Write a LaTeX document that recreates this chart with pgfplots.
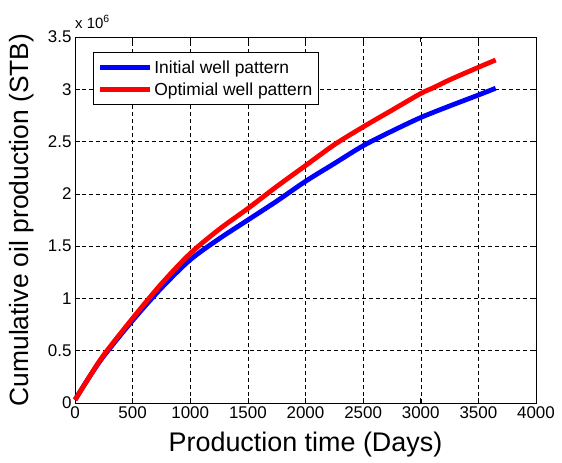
\documentclass[border=0pt]{standalone}
\usepackage{fontspec}
\setmainfont{Liberation Sans}
\usepackage{pgfplots}
\pgfplotsset{compat=1.18}
\begin{document}
\begin{tikzpicture}
\begin{axis}[
  at={(0,0)}, anchor=south west,
  scale only axis, width=461bp, height=366bp,
  xmin=0, xmax=4000, ymin=0, ymax=3.5,
  xtick={0,500,1000,1500,2000,2500,3000,3500,4000},
  ytick={0,0.5,1,1.5,2,2.5,3,3.5},
  grid=major,
  major grid style={black, line width=0.5bp, dash pattern=on 4bp off 3bp},
  tick align=inside, major tick length=5bp,
  tick style={black, line width=0.6bp},
  axis line style={line width=0.8bp},
  /pgf/number format/assume math mode=true,
  /pgf/number format/1000 sep={},
  ticklabel style={font=\fontsize{17}{19}\selectfont},
  xlabel={Production time (Days)},
  ylabel={Cumulative oil production (STB)},
  xlabel style={font=\fontsize{27}{30}\selectfont, at={(axis description cs:0.5,-49/366)}, anchor=base},
  ylabel style={font=\fontsize{26.5}{30}\selectfont, at={(axis description cs:-38/461,0.5)}, anchor=south},
  legend style={at={(axis description cs:18/461,1-15/366)}, anchor=north west,
    draw=black, line width=0.8bp, font=\fontsize{17.5}{19}\selectfont,
    inner xsep=4bp, inner ysep=6bp, row sep=4bp},
  legend cell align=left,
  legend image code/.code={\draw[#1, line width=5bp] (2bp,0bp) -- (52bp,0bp);},
  clip=false,
]
\addplot[blue, line width=4.8bp, line join=round, smooth, tension=0.5] coordinates {
 (0,0.03) (125,0.25) (250,0.45) (500,0.79) (750,1.10) (1000,1.37) (1250,1.57)
 (1500,1.75) (1750,1.93) (2000,2.12) (2250,2.29) (2500,2.46) (2750,2.60)
 (3000,2.73) (3250,2.84) (3500,2.945) (3650,3.01)};
\addlegendentry{Initial well pattern}
\addplot[red, line width=4.8bp, line join=round, smooth, tension=0.5] coordinates {
 (0,0.03) (125,0.25) (250,0.46) (500,0.81) (750,1.14) (1000,1.43) (1250,1.66)
 (1500,1.86) (1750,2.07) (2000,2.27) (2250,2.47) (2500,2.64) (2750,2.80)
 (3000,2.96) (3100,3.01) (3250,3.09) (3500,3.21) (3650,3.28)};
\addlegendentry{Optimial well pattern}
\node[anchor=base west, font=\fontsize{15}{16}\selectfont, inner sep=0pt]
  at (axis description cs:0,1) [yshift=9bp] {x 10\textsuperscript{6}};
\end{axis}
\path (-75bp,-60bp) rectangle (487bp,403bp);
\end{tikzpicture}
\end{document}
